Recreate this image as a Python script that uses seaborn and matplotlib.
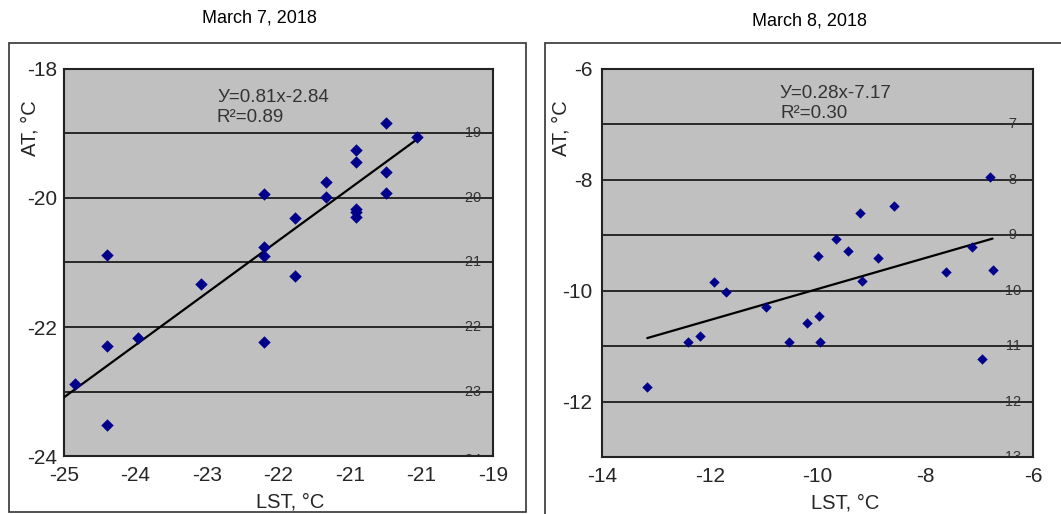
import matplotlib
matplotlib.use("Agg")
import matplotlib.pyplot as plt
import matplotlib.patches as mpatches
import seaborn as sns
import numpy as np
import pandas as pd

# ---------------- data ----------------
titles = ["March 7, 2018", "March 8, 2018"]

lst_mar7 = [-20.50, -20.06, -20.92, -20.92, -20.50, -21.34, -21.34, -22.20, -20.50,
            -21.77, -20.92, -20.92, -20.92, -22.20, -22.20, -24.40, -21.77, -23.08,
            -24.40, -23.96, -22.20, -24.85, -24.40]
at_mar7 = [-18.84, -19.05, -19.26, -19.44, -19.60, -19.75, -19.98, -19.94, -19.92,
           -20.31, -20.17, -20.22, -20.29, -20.76, -20.90, -20.88, -21.21, -21.33,
           -22.29, -22.17, -22.23, -22.88, -23.52]

lst_mar8 = [-6.80, -8.58, -9.21, -9.66, -9.44, -7.14, -10.00, -8.87, -7.62, -6.75,
            -11.92, -11.70, -9.18, -10.96, -9.98, -10.20, -12.18, -12.40, -10.53,
            -9.96, -6.95, -13.16]
at_mar8 = [-7.95, -8.47, -8.59, -9.06, -9.28, -9.21, -9.37, -9.41, -9.66, -9.62,
           -9.84, -10.02, -9.82, -10.29, -10.45, -10.59, -10.81, -10.92, -10.92,
           -10.92, -11.23, -11.73]

slope_mar7, intercept_mar7 = 0.81, -2.84
slope_mar8, intercept_mar8 = 0.28, -7.17
eq_mar7 = ["У=0.81x-2.84", "R²=0.89"]
eq_mar8 = ["У=0.28x-7.17", "R²=0.30"]

xticks_mar7 = [-25, -24, -23, -22, -21, -20, -19]
xticklabels_mar7 = ["-25", "-24", "-23", "-22", "-21", "-21", "-19"]
yticks_mar7 = [-24, -23, -22, -21, -20, -19, -18]
yticklabels_mar7 = ["-24", "", "-22", "", "-20", "", "-18"]
right_vals_mar7 = [-19, -20, -21, -22, -23, -24]
right_labels_mar7 = ["-19", "-20", "-21", "-22", "-23", "-24"]

xticks_mar8 = [-14, -12, -10, -8, -6]
xticklabels_mar8 = ["-14", "-12", "-10", "-8", "-6"]
yticks_mar8 = [-13, -12, -11, -10, -9, -8, -7, -6]
yticklabels_mar8 = ["", "-12", "", "-10", "", "-8", "", "-6"]
right_vals_mar8 = [-7, -8, -9, -10, -11, -12, -13]
right_labels_mar8 = ["-7", "-8", "-9", "-10", "-11", "-12", "-13"]

# ---------------- style ----------------
sns.set_style("white")
plt.rcParams["font.family"] = ["Liberation Sans", "DejaVu Sans"]

fig = plt.figure(figsize=(10.61, 5.14), dpi=100)

# outer chart frames
fig.patches.append(mpatches.Rectangle((0.0085, 0.0039), 0.4873, 0.9125, transform=fig.transFigure,
                                      fill=False, edgecolor="#333333", linewidth=1.2))
fig.patches.append(mpatches.Rectangle((0.5137, -0.02), 0.50, 0.9365, transform=fig.transFigure,
                                      fill=False, edgecolor="#333333", linewidth=1.2))

ax1 = fig.add_axes([0.0603, 0.1128, 0.4043, 0.7530])
ax2 = fig.add_axes([0.5674, 0.1109, 0.4062, 0.7549])

panels = [
    dict(ax=ax1, x=lst_mar7, y=at_mar7, slope=slope_mar7, icpt=intercept_mar7, eq=eq_mar7,
         xlim=(-25, -19), ylim=(-24, -18), xt=xticks_mar7, xtl=xticklabels_mar7,
         yt=yticks_mar7, ytl=yticklabels_mar7, rv=right_vals_mar7, rl=right_labels_mar7,
         ms=40, eqpos=(217, 98), title=titles[0], tpos=(259, 18),
         ylab=(-0.079, 0.847), xlab=(0.527, -0.093), line_start="xlim", ypad=5, rv_shift=-0.06),
    dict(ax=ax2, x=lst_mar8, y=at_mar8, slope=slope_mar8, icpt=intercept_mar8, eq=eq_mar8,
         xlim=(-14, -6), ylim=(-13, -6), xt=xticks_mar8, xtl=xticklabels_mar8,
         yt=yticks_mar8, ytl=yticklabels_mar8, rv=right_vals_mar8, rl=right_labels_mar8,
         ms=28, eqpos=(780, 93), title=titles[1], tpos=(810, 21),
         ylab=(-0.095, 0.848), xlab=(0.564, -0.093), line_start="data", ypad=7, rv_shift=0.0),
]

W, H = 1061, 514
for p in panels:
    ax = p["ax"]
    ax.set_facecolor("#c0c0c0")
    df = pd.DataFrame({"LST": p["x"], "AT": p["y"]})
    sns.scatterplot(data=df, x="LST", y="AT", ax=ax, marker="D", color="#00008b",
                    s=p["ms"], linewidth=0, zorder=4)
    x0 = p["xlim"][0] if p["line_start"] == "xlim" else min(p["x"])
    x1 = max(p["x"])
    fx = np.array([x0, x1])
    fit = pd.DataFrame({"LST": fx, "AT": p["slope"] * fx + p["icpt"]})
    sns.lineplot(data=fit, x="LST", y="AT", ax=ax, color="black", linewidth=1.6, zorder=3)

    ax.set_xlim(*p["xlim"])
    ax.set_ylim(*p["ylim"])
    ax.set_xticks(p["xt"])
    ax.set_xticklabels(p["xtl"], fontsize=15)
    ax.set_yticks(p["yt"])
    ax.set_yticklabels(p["ytl"], fontsize=15)
    ax.tick_params(axis="x", direction="out", length=7, width=1.2, color="#222222", pad=0)
    ax.tick_params(axis="y", length=0, pad=p["ypad"])
    ax.grid(axis="y", color="black", linewidth=1.1)
    ax.grid(axis="x", visible=False)
    ax.set_axisbelow(True)
    for s in ax.spines.values():
        s.set_visible(True)
        s.set_color("#222222")
        s.set_linewidth(1.5)

    ax.set_xlabel("LST, °C", fontsize=14.5)
    ax.set_ylabel("AT, °C", fontsize=14.5)
    ax.xaxis.set_label_coords(*p["xlab"])
    ax.yaxis.set_label_coords(*p["ylab"])
    ax.yaxis.label.set_va("center")

    for v, lab in zip(p["rv"], p["rl"]):
        ax.text(0.949, v + (p["rv_shift"] if v == p["ylim"][0] else 0), lab,
                transform=ax.get_yaxis_transform(), ha="center", va="center",
                fontsize=10.5, color="#333333", clip_on=True, zorder=2)

    ex, ey = p["eqpos"]
    fig.text(ex / W, 1 - ey / H, p["eq"][0], fontsize=13.5, color="#333333", ha="left", va="center")
    fig.text(ex / W, 1 - (ey + 20) / H, p["eq"][1], fontsize=13.5, color="#333333", ha="left", va="center")
    tx, ty = p["tpos"]
    fig.text(tx / W, 1 - ty / H, p["title"], fontsize=13, color="black", ha="center", va="center")

fig.savefig("out.png", dpi=100)
